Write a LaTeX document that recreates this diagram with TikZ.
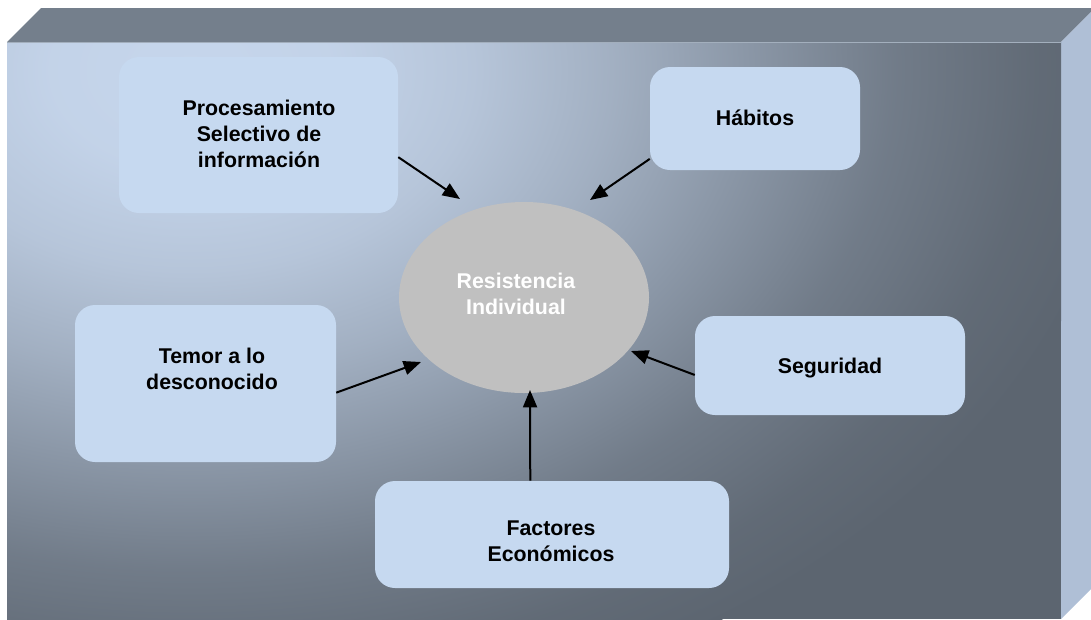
\documentclass[tikz,border=0pt]{standalone}
\usepackage{fontspec}
\setmainfont{Liberation Sans}
\usetikzlibrary{shapes.geometric,arrows.meta}
\definecolor{bglight}{HTML}{C6D6EC}
\definecolor{bgdark}{HTML}{5C6570}
\colorlet{bgA}{bglight!97!bgdark}
\colorlet{bgB}{bglight!85!bgdark}
\colorlet{bgC}{bglight!66!bgdark}
\colorlet{bgD}{bglight!43!bgdark}
\colorlet{bgE}{bglight!20!bgdark}
\colorlet{bgF}{bglight!5!bgdark}
\definecolor{topface}{HTML}{747F8C}
\definecolor{edgeline}{HTML}{A3AFBD}
\definecolor{sideface}{HTML}{AFBFD6}
\definecolor{boxfill}{HTML}{C6D9F0}
\definecolor{ellfill}{HTML}{C0C0C0}
\pgfdeclareradialshading{bgshade}{\pgfpointorigin}{color(0bp)=(bglight); color(3.75bp)=(bgA); color(7.5bp)=(bgB); color(11.25bp)=(bgC); color(15bp)=(bgD); color(18.75bp)=(bgE); color(22.5bp)=(bgF); color(25bp)=(bgdark); color(50bp)=(bgdark)}
\begin{document}
\begin{tikzpicture}[x=0.75pt,y=-0.75pt,
  box/.style={draw=none, fill=boxfill, rounded corners=15pt, inner sep=0pt},
  lbl/.style={font=\bfseries\fontsize{16}{19.5}\selectfont, align=center, inner sep=0pt},
  arr/.style={line width=1.5pt, -{Triangle[length=13pt,width=10.5pt]}}]
\useasboundingbox (0,0) rectangle (1091,619);
% 3D slab
\fill[topface] (7,42) -- (41,8) -- (1091,8) -- (1091,12) -- (1061,42) -- cycle;
\fill[sideface] (1061,42) -- (1091,12) -- (1091,589) -- (1061,619) -- cycle;
\begin{scope}
  \clip (7,42) rectangle (1061,619);
  \fill[bgdark] (7,42) rectangle (1061,619);
  \shade[shading=bgshade] (190,70) ellipse [x radius=705pt, y radius=500pt];
\end{scope}
\draw[edgeline, line width=0.75pt] (7,42.5) -- (1061,42.5);
% boxes
\node[box, minimum width=209.25pt, minimum height=117pt] (proc) at (258.5,135) {};
\node[lbl] (proctxt) at (259,134) {Procesamiento\\Selectivo de\\información};
\node[box, minimum width=157.5pt, minimum height=77.25pt] (hab) at (755,118.5) {};
\node[lbl] (habtxt) at (755,118) {Hábitos};
\node[box, minimum width=195.75pt, minimum height=117.75pt] (tem) at (205.5,383.5) {};
\node[lbl] (temtxt) at (212,369) {Temor a lo\\desconocido};
\node[box, minimum width=202.5pt, minimum height=74.25pt] (seg) at (830,365.5) {};
\node[lbl] (segtxt) at (830,368) {Seguridad};
\node[box, minimum width=265.5pt, minimum height=80.25pt] (fac) at (552,534.5) {};
\node[lbl] (factxt) at (551,541) {Factores\\Económicos};
% ellipse
\node[ellipse, fill=ellfill, minimum width=187.5pt, minimum height=143.25pt, inner sep=0pt] (res) at (524,297.5) {};
\node[lbl, text=white] (restxt) at (516,294) {Resistencia\\Individual};
% arrow tips
\coordinate (t1) at (460,199);
\coordinate (t2) at (590,200);
\coordinate (t3) at (421,362);
\coordinate (t4) at (631,351);
\coordinate (t5) at (530,390);
\draw[arr] (proc.-9.4) -- (t1);
\draw[arr] (hab.201.6) -- (t2);
\draw[arr] (tem.-4.5) -- (t3);
\draw[arr] (seg.184.1) -- (t4);
\draw[arr] (fac.112.4) -- (t5);
\end{tikzpicture}
\end{document}
